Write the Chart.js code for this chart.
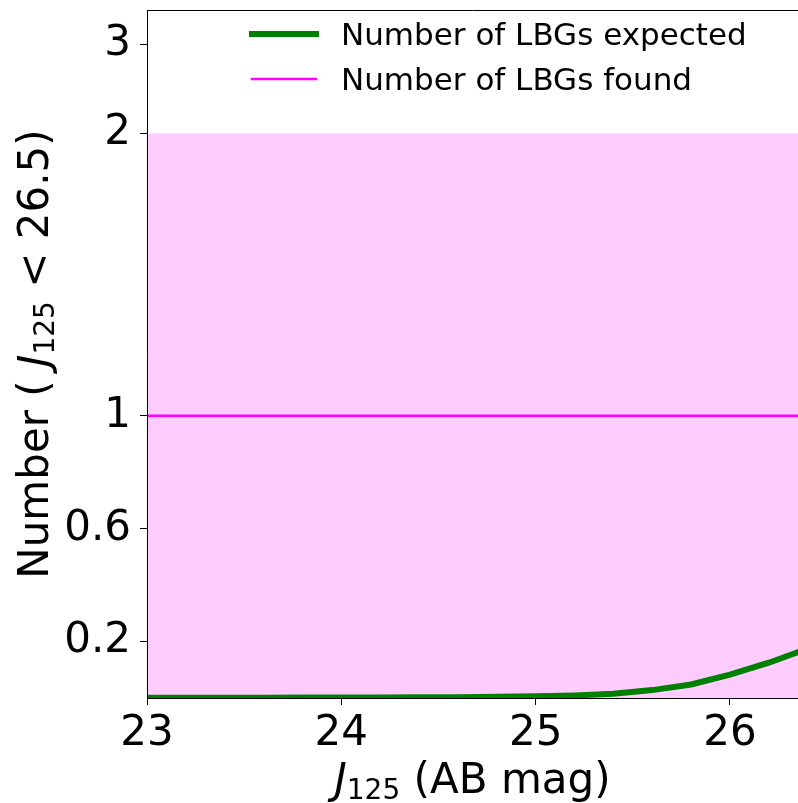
<!DOCTYPE html>
<html>
<head>
<meta charset="utf-8">
<script src="https://cdn.jsdelivr.net/npm/chart.js@4.4.1/dist/chart.umd.min.js"></script>
<style>
  html, body { margin: 0; padding: 0; background: #fff; }
  #wrap { width: 798px; height: 803px; }
</style>
</head>
<body>
<div id="wrap"><canvas id="myChart"></canvas></div>
<script>
/* Datos de la figura. */
const magnitudes = [23.0, 23.2, 23.4, 23.6, 23.8, 24.0, 24.2, 24.4, 24.6, 24.8,
  25.0, 25.2, 25.4, 25.6, 25.8, 26.0, 26.2, 26.4];
const expected = [0.001, 0.001, 0.001, 0.001, 0.0015, 0.002, 0.002, 0.003, 0.003, 0.004,
  0.006, 0.009, 0.015, 0.028, 0.048, 0.083, 0.125, 0.175];
const foundMag = [23.0, 26.35];
const found = [1, 1];
const limitUpper = [2, 2];
const xTicks = [23, 24, 25, 26];
const yTicks = [0.2, 0.6, 1, 2, 3];
const xMin = 23;
const xMax = 26.35;
const yMax = 3.5;

const ctx = document.getElementById("myChart");
const font = "DejaVu Sans";

/* Escala symlog (base 10, linthresh 2, linscale 1) expresada en unidades lineales. */
const LIN = 2;
const symlog = (v) => (v <= LIN ? v : LIN + LIN * 0.9 * Math.log10(v / LIN));

const toPoints = (xs, ys) => xs.map((x, i) => ({ x: x, y: symlog(ys[i]) }));

/**
 * Dibuja una línea de texto con tramos de distintas fuentes (cursiva, subíndice).
 */
const drawRuns = (c, runs, cx, baseline) => {
  let total = 0;
  runs.forEach((r) => {
    c.font = r.font;
    total += c.measureText(r.text).width;
  });
  let x = cx - total / 2;
  runs.forEach((r) => {
    c.font = r.font;
    c.fillText(r.text, x, baseline + (r.dy || 0));
    x += c.measureText(r.text).width;
  });
};

// títulos de ejes, leyenda y borde superior
const decorations = {
  id: "decorations",
  afterDraw(chart) {
    const c = chart.ctx;
    const area = chart.chartArea;
    c.save();
    c.fillStyle = "#000";
    c.textBaseline = "alphabetic";
    c.textAlign = "left";

    const big = `42px ${font}`;
    const ital = `italic 42px ${font}`;
    const sub = `28px ${font}`;

    const cx = (area.left + area.right) / 2;
    drawRuns(c, [
      { text: "J", font: ital },
      { text: "125", font: sub, dy: 6 },
      { text: " (AB mag)", font: big },
    ], cx, 793);

    c.save();
    c.translate(48, (area.top + area.bottom) / 2);
    c.rotate(-Math.PI / 2);
    drawRuns(c, [
      { text: "Number ( ", font: big },
      { text: "J", font: ital },
      { text: "125", font: sub, dy: 6 },
      { text: " < 26.5)", font: big },
    ], 0, 0);
    c.restore();

    // borde superior
    c.strokeStyle = "#000";
    c.lineWidth = 1;
    c.beginPath();
    c.moveTo(area.left, area.top + 0.5);
    c.lineTo(area.right, area.top + 0.5);
    c.stroke();

    // leyenda
    const rows = [chart.data.datasets[0], chart.data.datasets[1]];
    const handleX = area.left + 105;
    const textX = area.left + 194;
    c.font = `31px ${font}`;
    rows.forEach((ds, i) => {
      const y = 34 + i * 45;
      c.strokeStyle = ds.borderColor;
      c.lineWidth = ds.borderWidth;
      c.lineCap = "square";
      c.beginPath();
      c.moveTo(handleX, y);
      c.lineTo(handleX + 64, y);
      c.stroke();
      c.fillText(ds.label, textX, y + 11);
    });
    c.restore();
  },
};

const config = {
  type: "line",
  data: {
    datasets: [
      {
        label: "Number of LBGs expected",
        data: toPoints(magnitudes, expected),
        borderColor: "#008000",
        borderWidth: 6,
        pointRadius: 0,
        fill: false,
        clip: 0,
      },
      {
        label: "Number of LBGs found",
        data: toPoints(foundMag, found),
        borderColor: "#ff00ff",
        borderWidth: 2.5,
        pointRadius: 0,
        fill: false,
      },
      {
        label: "range",
        data: toPoints(foundMag, limitUpper),
        borderWidth: 0,
        borderColor: "rgba(0,0,0,0)",
        backgroundColor: "#ffccff",
        pointRadius: 0,
        fill: "origin",
      },
    ],
  },
  options: {
    responsive: true,
    maintainAspectRatio: false,
    animation: false,
    layout: { padding: { top: 10, right: 0, bottom: 0, left: 0 } },
    plugins: {
      legend: { display: false },
      tooltip: { enabled: false },
    },
    scales: {
      x: {
        type: "linear",
        min: xMin,
        max: xMax,
        afterBuildTicks: (scale) => {
          scale.ticks = xTicks.map((v) => ({ value: v }));
        },
        afterFit: (scale) => {
          scale.height = 105;
          scale.paddingLeft = 0;
          scale.paddingRight = 0;
        },
        ticks: {
          autoSkip: false,
          maxRotation: 0,
          padding: 4,
          color: "#000",
          font: { family: font, size: 42 },
          callback: (value) => String(value),
        },
        grid: { drawOnChartArea: false, drawTicks: true, tickLength: 7, tickColor: "#000" },
        border: { display: true, color: "#000", width: 1, z: 1 },
      },
      y: {
        type: "linear",
        min: 0,
        max: symlog(yMax),
        afterBuildTicks: (scale) => {
          scale.ticks = yTicks.map((v) => ({ value: symlog(v) }));
        },
        afterFit: (scale) => {
          scale.width = 147;
          scale.paddingTop = 0;
          scale.paddingBottom = 0;
        },
        ticks: {
          autoSkip: false,
          padding: 9,
          color: "#000",
          font: { family: font, size: 42 },
          callback: (value, index) => String(yTicks[index]),
        },
        grid: { drawOnChartArea: false, drawTicks: true, tickLength: 7, tickColor: "#000" },
        border: { display: true, color: "#000", width: 1, z: 1 },
      },
    },
  },
  plugins: [decorations],
};

const myChart = new Chart(ctx, config);
</script>
</body>
</html>
